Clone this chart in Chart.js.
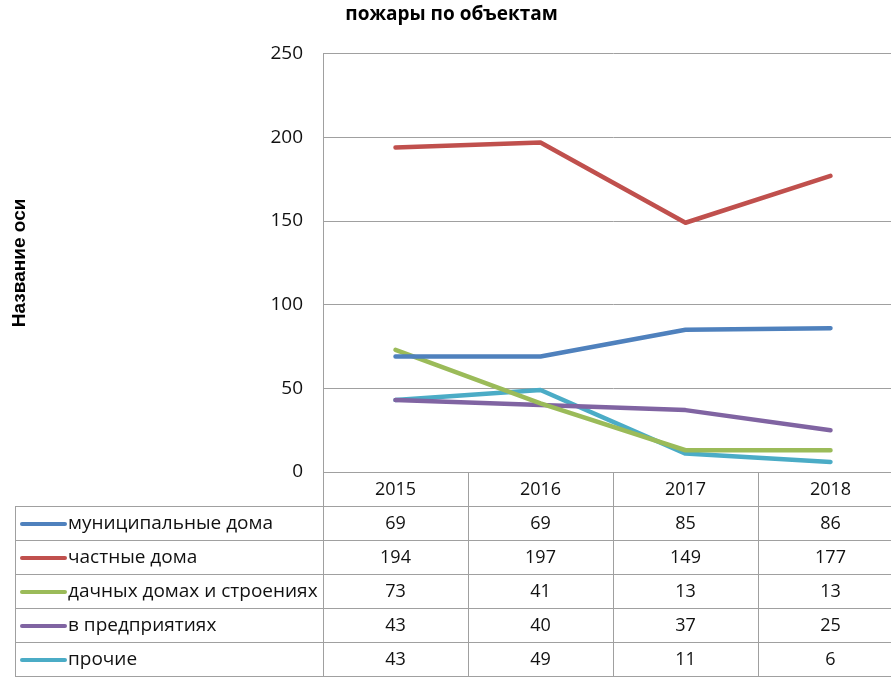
<!DOCTYPE html>
<html>
<head>
<meta charset="utf-8">
<script src="https://cdn.jsdelivr.net/npm/chart.js@4"></script>
<style>
html,body{margin:0;padding:0;overflow:hidden;background:#fff;width:891px;height:677px;}
#wrap{width:905px;height:677px;}
</style>
</head>
<body>
<div id="wrap"><canvas id="c" width="905" height="677"></canvas></div>
<script>
const chartTitle = 'пожары по объектам';
const axisTitle = 'Название оси';
const years = ['2015', '2016', '2017', '2018'];
const seriesNames = ['муниципальные дома', 'частные дома', 'дачных домах и строениях', 'в предприятиях', 'прочие'];
const municipal = [69, 69, 85, 86];
const privateHouses = [194, 197, 149, 177];
const dacha = [73, 41, 13, 13];
const enterprises = [43, 40, 37, 25];
const other = [43, 49, 11, 6];
const seriesColors = ['#4F81BD', '#C0504D', '#9BBB59', '#8064A2', '#4BACC6'];
const yTicks = [0, 50, 100, 150, 200, 250];

const seriesValues = [municipal, privateHouses, dacha, enterprises, other];
const GRID = '#a0a0a0';
const FONT = "'Open Sans', sans-serif";

const tablePlugin = {
  id: 'dataTable',
  afterDraw(chart) {
    const ctx = chart.ctx;
    const area = chart.chartArea;
    const xs = chart.scales.x;
    const rowH = 34;
    const top = area.bottom;
    const bottom = chart.height;
    const tableLeft = 15;
    const right = chart.width;
    const n = years.length;
    const catW = (area.right - area.left) / n;
    ctx.save();
    ctx.strokeStyle = GRID;
    ctx.lineWidth = 1;
    ctx.beginPath();
    ctx.moveTo(area.left + 0.5, top); ctx.lineTo(area.left + 0.5, bottom);
    for (let i = 1; i <= n; i++) {
      const x = Math.round(area.left + catW * i) + 0.5;
      ctx.moveTo(x, top); ctx.lineTo(x, bottom);
    }
    ctx.moveTo(tableLeft + 0.5, top + rowH); ctx.lineTo(tableLeft + 0.5, bottom);
    for (let r = 1; r <= seriesNames.length + 1; r++) {
      const y = Math.round(top + rowH * r) + 0.5;
      ctx.moveTo(tableLeft, y); ctx.lineTo(right, y);
    }
    ctx.stroke();

    ctx.fillStyle = '#111';
    ctx.textBaseline = 'middle';
    ctx.font = "18px " + FONT;
    ctx.textAlign = 'center';
    years.forEach((yr, i) => {
      ctx.fillText(yr, xs.getPixelForValue(i), top + rowH / 2 + 1);
    });
    seriesNames.forEach((name, r) => {
      const cy = top + rowH * (r + 1) + rowH / 2 + 1;
      ctx.font = "18px " + FONT;
      ctx.textAlign = 'center';
      seriesValues[r].forEach((v, i) => {
        ctx.fillText(String(v), xs.getPixelForValue(i), cy);
      });
      ctx.strokeStyle = seriesColors[r];
      ctx.lineWidth = 4;
      ctx.lineCap = 'round';
      ctx.beginPath();
      ctx.moveTo(22, cy); ctx.lineTo(65, cy);
      ctx.stroke();
      ctx.font = "19px " + FONT;
      ctx.textAlign = 'left';
      ctx.fillText(name, 68, cy);
    });
    ctx.restore();
  }
};

new Chart(document.getElementById('c'), {
  type: 'line',
  data: {
    labels: years,
    datasets: seriesNames.map((name, i) => ({
      label: name,
      data: seriesValues[i],
      borderColor: seriesColors[i],
      backgroundColor: seriesColors[i],
      borderWidth: 4.5,
      borderCapStyle: 'round',
      borderJoinStyle: 'round',
      pointRadius: 0,
      tension: 0,
      fill: false
    }))
  },
  options: {
    responsive: false,
    animation: false,
    devicePixelRatio: 1,
    layout: { padding: { left: 0, right: 2, top: 0, bottom: 205 } },
    plugins: {
      legend: { display: false },
      tooltip: { enabled: false },
      title: {
        display: true,
        text: chartTitle,
        color: '#000',
        font: { family: FONT, size: 19, weight: 'bold' },
        padding: { top: 3, bottom: 28 }
      }
    },
    scales: {
      x: {
        type: 'category',
        offset: true,
        display: false
      },
      y: {
        min: 0, max: 250,
        afterBuildTicks(scale) { scale.ticks = yTicks.map(v => ({ value: v })); },
        afterFit(scale) { scale.width = 323; },
        grid: { color: GRID, drawTicks: false, lineWidth: 1 },
        border: { display: true, color: GRID, width: 1 },
        ticks: { padding: 20, color: '#111', font: { family: FONT, size: 19 } },
        title: {
          display: true,
          text: axisTitle,
          color: '#000',
          font: { family: "'Liberation Sans', Arial, sans-serif", size: 19, weight: 'bold' },
          padding: { top: 8, bottom: 0 }
        }
      }
    }
  },
  plugins: [tablePlugin]
});
</script>
</body>
</html>
